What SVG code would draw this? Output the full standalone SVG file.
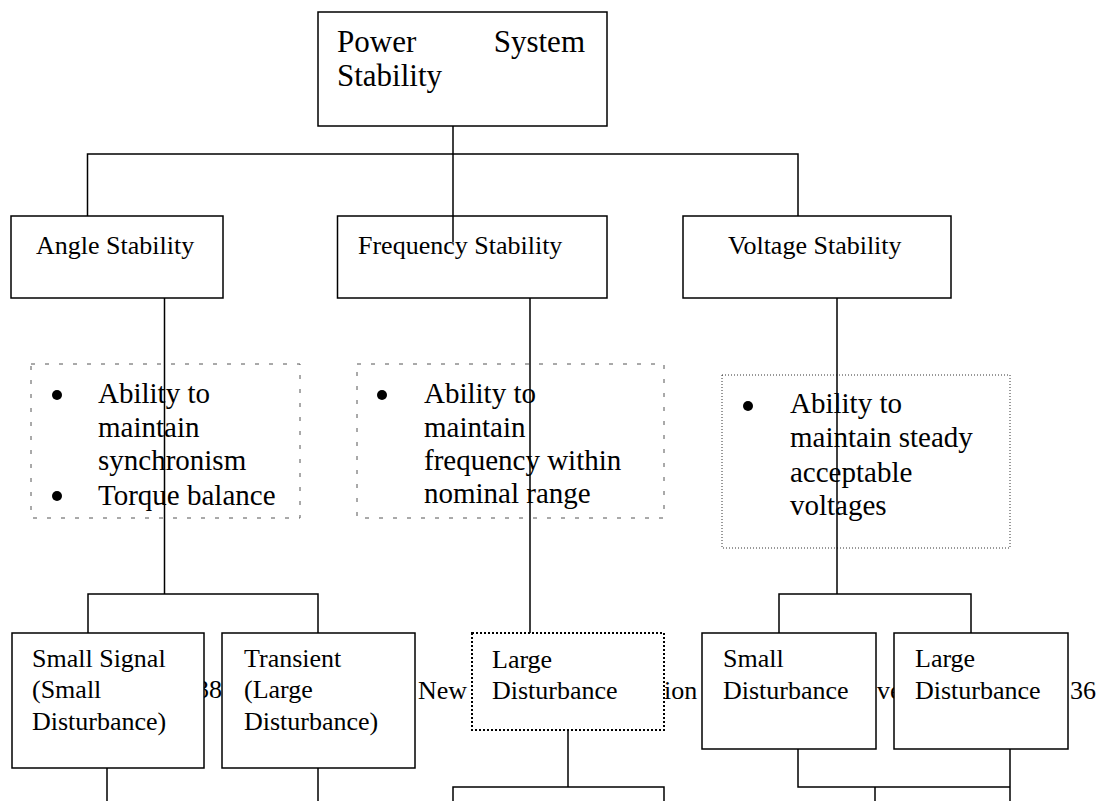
<svg xmlns="http://www.w3.org/2000/svg" width="1101" height="801" viewBox="0 0 1101 801">
<style>
text{font-family:"Liberation Serif","Times New Roman",serif;fill:#000}
.t31{font-size:31px}
.t26{font-size:26px}
.t29{font-size:29px}
.box{fill:#fff;stroke:#000;stroke-width:1.5}
.dash{fill:none;stroke:#555;stroke-width:1;stroke-dasharray:4 10}
.dot{fill:none;stroke:#333;stroke-width:1;stroke-dasharray:1 2}
.dot2{fill:#fff;stroke:#000;stroke-width:2;stroke-dasharray:2 2}
.con{fill:none;stroke:#000;stroke-width:1.5}
</style>
<rect width="1101" height="801" fill="#fff"/>
<g id="footer" class="t26">
<text x="196" y="698">38</text>
<text x="418" y="699">New</text>
<text x="664" y="699">ion</text>
<text x="877" y="699">ve</text>
<text x="1070" y="699">36</text>
</g>
<g id="root">
<rect class="box" x="318" y="12" width="289" height="114"/>
<text class="t31" x="337" y="52">Power</text>
<text class="t31" x="585" y="52" text-anchor="end">System</text>
<text class="t31" x="337" y="86">Stability</text>
</g>
<g id="angle">
<rect class="box" x="11" y="216" width="212" height="82"/>
<text class="t26" x="36" y="254">Angle Stability</text>
</g>
<g id="frequency">
<rect class="box" x="337.5" y="216" width="269.5" height="82"/>
<text class="t26" x="358" y="254">Frequency Stability</text>
</g>
<g id="voltage">
<rect class="box" x="683" y="216" width="268" height="82"/>
<text class="t26" x="728" y="254">Voltage Stability</text>
</g>
<g id="angle-note">
<rect class="dash" x="31" y="364" width="269" height="154"/>
<circle cx="57" cy="395" r="5"/>
<circle cx="57" cy="496" r="5"/>
<text class="t29" x="98" y="403">Ability to</text>
<text class="t29" x="98" y="437">maintain</text>
<text class="t29" x="98" y="470">synchronism</text>
<text class="t29" x="98" y="505">Torque balance</text>
</g>
<g id="frequency-note">
<rect class="dash" x="357" y="364" width="307" height="154"/>
<circle cx="382" cy="395" r="5"/>
<text class="t29" x="424" y="403">Ability to</text>
<text class="t29" x="424" y="437">maintain</text>
<text class="t29" x="424" y="470">frequency within</text>
<text class="t29" x="424" y="503">nominal range</text>
</g>
<g id="voltage-note">
<rect class="dot" x="722" y="375" width="288" height="173"/>
<circle cx="748" cy="406" r="5"/>
<text class="t29" x="790" y="413">Ability to</text>
<text class="t29" x="790" y="447">maintain steady</text>
<text class="t29" x="790" y="482">acceptable</text>
<text class="t29" x="790" y="515">voltages</text>
</g>
<g id="small-signal">
<rect class="box" x="12" y="633" width="192" height="135"/>
<text class="t26" x="32" y="667">Small Signal</text>
<text class="t26" x="32" y="698">(Small</text>
<text class="t26" x="32" y="730">Disturbance)</text>
</g>
<g id="transient">
<rect class="box" x="222" y="633" width="193" height="135"/>
<text class="t26" x="244" y="667">Transient</text>
<text class="t26" x="244" y="698">(Large</text>
<text class="t26" x="244" y="730">Disturbance)</text>
</g>
<g id="freq-large">
<rect class="dot2" x="472" y="633" width="192" height="97"/>
<text class="t26" x="492" y="668">Large</text>
<text class="t26" x="492" y="699">Disturbance</text>
</g>
<g id="volt-small">
<rect class="box" x="702" y="633" width="174" height="116"/>
<text class="t26" x="723" y="667">Small</text>
<text class="t26" x="723" y="699">Disturbance</text>
</g>
<g id="volt-large">
<rect class="box" x="894" y="633" width="174" height="116"/>
<text class="t26" x="915" y="667">Large</text>
<text class="t26" x="915" y="699">Disturbance</text>
</g>
<g id="connectors" class="con">
<path d="M453 126V242"/>
<path d="M87.5 216V154H798V216"/>
<path d="M164.5 298V594"/>
<path d="M88 633V594H318V633"/>
<path d="M107 768V801M318 768V801"/>
<path d="M530 298V633"/>
<path d="M568 730V787"/>
<path d="M453 801V787H664V801"/>
<path d="M837 298V594"/>
<path d="M779 633V594H971V633"/>
<path d="M798 749V787H1010"/>
<path d="M1010 749V801"/>
<path d="M875 787V801"/>
</g>
</svg>
